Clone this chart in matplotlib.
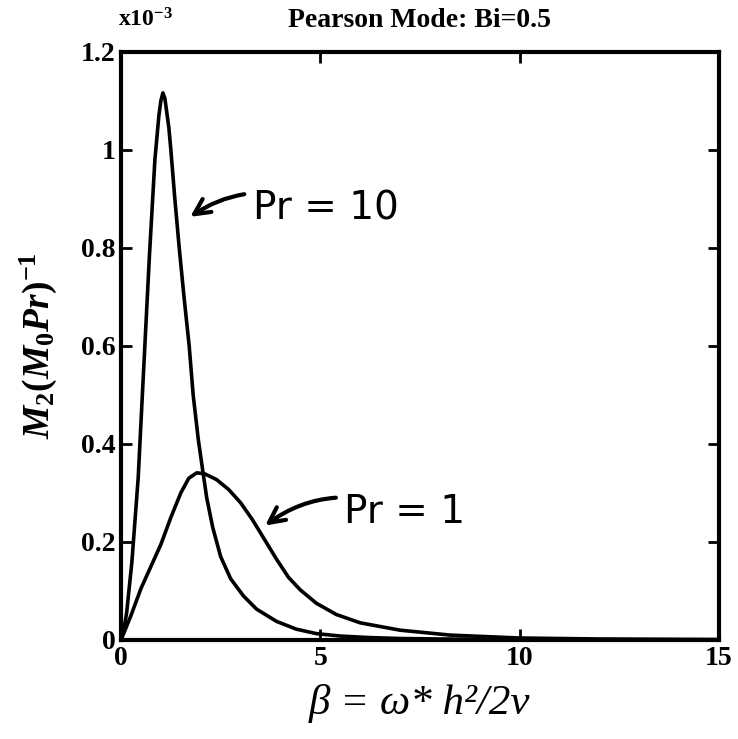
import matplotlib
matplotlib.use('Agg')
import matplotlib.pyplot as plt

plt.rcParams['font.family'] = ['Liberation Serif', 'DejaVu Serif']
plt.rcParams['mathtext.fontset'] = 'custom'
plt.rcParams['mathtext.it'] = 'Liberation Serif:italic:bold'
plt.rcParams['mathtext.rm'] = 'Liberation Serif:bold'
plt.rcParams['mathtext.bf'] = 'Liberation Serif:bold'

# values (y in units of 1e-3)
beta_pr10 = [0, 0.07, 0.14, 0.27, 0.43, 0.56, 0.71, 0.85, 0.95, 1.0, 1.05, 1.1,
             1.2, 1.25, 1.35, 1.46, 1.58, 1.71, 1.81, 1.94, 2.06, 2.15, 2.3, 2.5,
             2.75, 3.07, 3.4, 3.9, 4.4, 4.9, 5.5, 6.2, 7.0, 8.0, 10.0, 12.0, 15.0]
m2_pr10 = [0, 0.02, 0.055, 0.157, 0.33, 0.54, 0.78, 0.98, 1.07, 1.1, 1.116, 1.105,
           1.045, 1.0, 0.9, 0.8, 0.7, 0.6, 0.5, 0.408, 0.34, 0.29, 0.23, 0.17,
           0.125, 0.09, 0.063, 0.038, 0.022, 0.013, 0.008, 0.005, 0.003, 0.002, 0.001, 0.0005, 0.0]

beta_pr1 = [0, 0.25, 0.5, 0.75, 1.0, 1.25, 1.5, 1.7, 1.9, 2.1, 2.4, 2.7,
            3.0, 3.3, 3.6, 3.9, 4.2, 4.5, 4.9, 5.4, 6.0, 7.0, 8.25, 10.0, 12.0, 15.0]
m2_pr1 = [0, 0.05, 0.105, 0.15, 0.195, 0.25, 0.3, 0.33, 0.341, 0.339, 0.327, 0.307,
          0.28, 0.245, 0.205, 0.165, 0.128, 0.102, 0.075, 0.052, 0.035, 0.02, 0.01, 0.004, 0.002, 0.001]

xticks = [0, 5, 10, 15]
yticks = [0, 0.2, 0.4, 0.6, 0.8, 1.0, 1.2]
ytick_labels = ['0', '0.2', '0.4', '0.6', '0.8', '1', '1.2']

fig = plt.figure(figsize=(7.38, 7.39), dpi=100)
ax = fig.add_axes([0.164, 0.134, 0.81, 0.796])

ax.plot(beta_pr10, m2_pr10, color='black', lw=2.6)
ax.plot(beta_pr1, m2_pr1, color='black', lw=2.6)

ax.set_xlim(0, 15)
ax.set_ylim(0, 1.2)
ax.set_xticks(xticks)
ax.set_yticks(yticks)
ax.set_yticklabels(ytick_labels)
ax.tick_params(direction='in', length=8, width=2, top=True, right=True,
               labelsize=20, pad=4)
for lab in ax.get_xticklabels() + ax.get_yticklabels():
    lab.set_fontweight('bold')
for s in ax.spines.values():
    s.set_linewidth(3)

ax.set_title('Pearson Mode: Bi=0.5', fontsize=20, fontweight='bold', pad=18)
ax.text(-0.005, 1.035, r'x10$^{-3}$', transform=ax.transAxes, fontsize=17,
        fontweight='bold', ha='left', va='bottom')

ax.set_ylabel(r'$M_2(M_0Pr)^{-1}$', fontsize=27, labelpad=16)
ax.set_xlabel('β = ω* h²/2ν', fontsize=31, style='italic', labelpad=10)

# hand-written labels
hand = {'family': ['DejaVu Sans'], 'fontsize': 28}
ax.annotate('Pr = 10', xy=(1.68, 0.86), xytext=(3.3, 0.88), va='center', **hand,
            arrowprops=dict(arrowstyle='->', lw=3, color='black',
                            connectionstyle='arc3,rad=0.3', shrinkA=4))
ax.annotate('Pr = 1', xy=(3.56, 0.23), xytext=(5.6, 0.262), va='center', **hand,
            arrowprops=dict(arrowstyle='->', lw=3, color='black',
                            connectionstyle='arc3,rad=0.3', shrinkA=4))

fig.savefig('out.png', dpi=100)
